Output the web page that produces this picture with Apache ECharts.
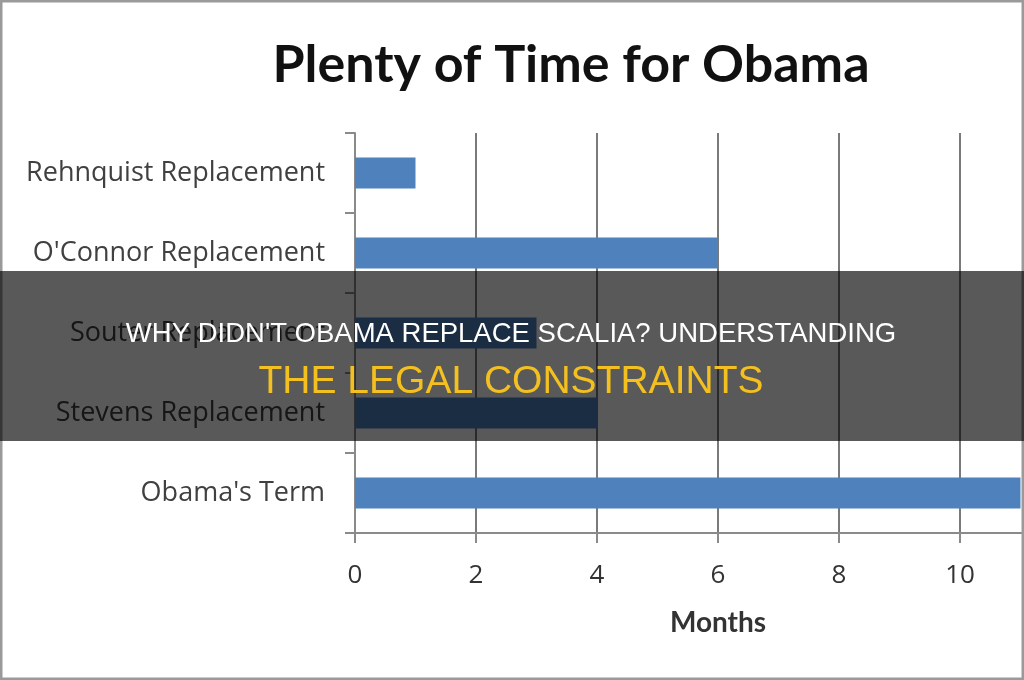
<!DOCTYPE html>
<html>
<head>
<meta charset="utf-8">
<script src="https://cdn.jsdelivr.net/npm/echarts@6/dist/echarts.min.js"></script>
<style>
  html, body { margin: 0; padding: 0; background: #fff; }
  #chart { width: 1024px; height: 680px; }
</style>
</head>
<body>
<div id="chart"></div>
<script>
  const categories = ['Rehnquist Replacement', "O'Connor Replacement", 'Souter Replacement', 'Stevens Replacement', "Obama's Term"];
  const months = [1, 6, 3, 4, 11];
  const chartTitle = 'Plenty of Time for Obama';
  const axisName = 'Months';
  const bannerLine1 = "WHY DIDN'T OBAMA REPLACE SCALIA? UNDERSTANDING";
  const bannerLine2 = 'THE LEGAL CONSTRAINTS';

  let chart = echarts.init(document.getElementById('chart'));
  let labelFont = '"Open Sans", Lato, sans-serif';
  let titleFont = 'Lato, "Open Sans", sans-serif';
  let bannerFont = '"Liberation Sans", Arial, sans-serif';

  let option = {
    backgroundColor: '#ffffff',
    animation: false,
    title: {
      text: chartTitle,
      left: 566,
      top: 34,
      textAlign: 'center',
      textStyle: {
        color: '#111',
        fontFamily: titleFont,
        fontWeight: 'bold',
        fontSize: 52
      }
    },
    grid: {
      left: 355,
      right: -57,
      top: 133,
      bottom: 147,
      containLabel: false,
      outerBoundsMode: 'none'
    },
    xAxis: {
      type: 'value',
      min: 0,
      max: 12,
      interval: 2,
      name: axisName,
      nameLocation: 'middle',
      nameGap: 76,
      nameTextStyle: {
        color: '#333',
        fontFamily: titleFont,
        fontWeight: 'bold',
        fontSize: 28
      },
      axisLine: { show: true, lineStyle: { color: '#8a8a8a', width: 2 } },
      axisTick: { show: true, length: 10, lineStyle: { color: '#8a8a8a', width: 2 } },
      axisLabel: {
        color: '#333',
        fontFamily: labelFont,
        fontSize: 26,
        margin: 30
      },
      splitLine: { show: true, lineStyle: { color: '#7a7a7a', width: 2 } }
    },
    yAxis: {
      type: 'category',
      data: categories,
      inverse: true,
      axisLine: { show: true, lineStyle: { color: '#8a8a8a', width: 2 } },
      axisTick: { show: true, length: 10, alignWithLabel: false, lineStyle: { color: '#8a8a8a', width: 2 } },
      axisLabel: {
        color: '#404040',
        fontFamily: labelFont,
        fontSize: 27,
        margin: 30
      }
    },
    series: [{
      type: 'bar',
      data: months,
      barWidth: 31,
      itemStyle: { color: '#4f81bd' }
    }],
    graphic: [
      {
        type: 'rect',
        z: 100,
        shape: { x: 1, y: 1, width: 1022, height: 678 },
        style: { fill: 'none', stroke: '#9a9a9a', lineWidth: 3 }
      },
      {
        type: 'rect',
        z: 101,
        shape: { x: 0, y: 271, width: 1024, height: 170 },
        style: { fill: 'rgba(0,0,0,0.65)' }
      },
      {
        type: 'text',
        z: 102,
        x: 511,
        y: 334,
        style: {
          text: bannerLine1,
          fill: '#ffffff',
          font: '27.5px ' + bannerFont,
          align: 'center',
          verticalAlign: 'middle'
        }
      },
      {
        type: 'text',
        z: 102,
        x: 511,
        y: 382,
        style: {
          text: bannerLine2,
          fill: '#f4c020',
          font: '39px ' + bannerFont,
          align: 'center',
          verticalAlign: 'middle'
        }
      }
    ]
  };

  chart.setOption(option);
</script>
</body>
</html>
